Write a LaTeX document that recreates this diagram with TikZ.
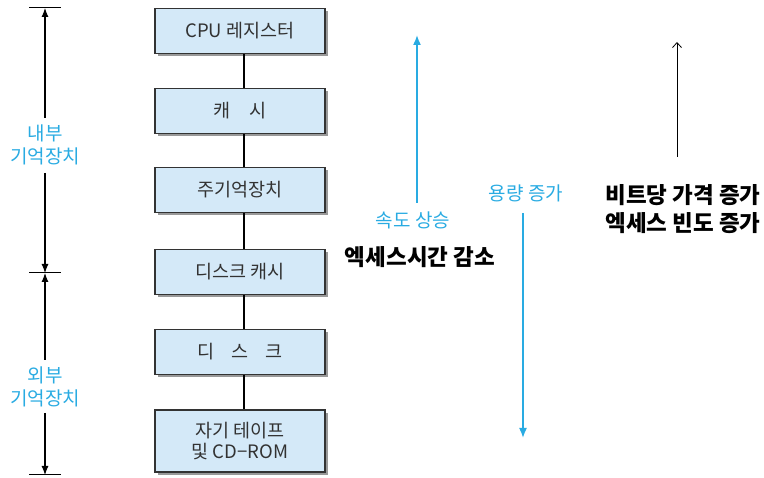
\documentclass[tikz,border=0pt]{standalone}
\usepackage{fontspec}
\newfontfamily\kr{Noto Sans CJK KR}
\usetikzlibrary{arrows.meta}
\definecolor{boxfill}{RGB}{212,233,248}
\definecolor{skyblue}{RGB}{41,171,226}
\definecolor{boxtext}{RGB}{50,50,50}
\tikzset{
  membox/.style={draw=black!80, line width=1.1pt, fill=boxfill, minimum width=170pt,
    minimum height=45pt, inner sep=0pt, align=center, text=boxtext,
    font=\kr\fontsize{18.5}{21}\selectfont},
  shadowbox/.style={fill=black!40, minimum width=170pt, minimum height=45pt, inner sep=0pt},
  link/.style={line width=1.3pt},
  dimline/.style={line width=1.1pt, -{Latex[length=9pt,width=7pt]}},
  tick/.style={line width=1pt},
  bluelabel/.style={text=skyblue, font=\kr\fontsize{19}{23}\selectfont, align=center, inner sep=1pt},
  bluearrow/.style={draw=skyblue, line width=1.6pt, -{Latex[length=10pt,width=8pt]}},
  blacklabel/.style={text=black, font=\kr\bfseries\fontsize{22.5}{28}\selectfont, align=center, inner sep=1pt},
  thinarrow/.style={line width=0.8pt, -{Straight Barb[length=5pt,width=9pt]}}
}
\begin{document}
\begin{tikzpicture}[x=1pt,y=-1pt]
\useasboundingbox (0,0) rectangle (764,478);

% drop shadows behind the memory boxes
\foreach \yy/\hh in {31/45,111/45,190/45,272/45,352/45,441/62}
  \node[shadowbox, minimum height=\hh pt] at (243,\yy+3) {};

% memory hierarchy boxes
\node[membox] (reg)   at (240,31)  {CPU 레지스터};
\node[membox] (cache) at (240,111) {캐\hspace{1em}시};
\node[membox] (main)  at (240,190) {주기억장치};
\node[membox] (dcache) at (240,272) {디스크 캐시};
\node[membox] (disk)  at (240,352) {디\hspace{0.9em}스\hspace{0.9em}크};
\node[membox, minimum height=62pt] (tape) at (240,441) {자기 테이프\\및 CD−ROM};

\foreach \a/\b in {reg/cache,cache/main,main/dcache,dcache/disk,disk/tape}
  \draw[link] ([xshift=4pt]\a.south) -- ([xshift=4pt]\b.north);

% left dimension lines: internal / external storage
\coordinate (t1) at (45,8);
\coordinate (t2) at (45,273);
\coordinate (t3) at (45,475);
\draw[tick] (29,8) -- (61,8);
\draw[tick] (29,273) -- (61,273);
\draw[tick] (29,475) -- (61,475);

\node[bluelabel] (inner) at (45,145) {내부\\기억장치};
\node[bluelabel] (outer) at (45,387) {외부\\기억장치};

\draw[dimline] (45,118) -- (t1);
\draw[dimline] (45,173) -- (t2);
\draw[dimline] (45,360) -- (t2);
\draw[dimline] (45,413) -- (t3);

% speed and capacity trends
\coordinate (upfoot) at (417,203);
\coordinate (uptip)  at (417,35);
\draw[bluearrow] (upfoot) -- (uptip);
\node[bluelabel] (speed) at (413,220) {속도 상승};
\node[blacklabel] (access) at (420,257) {엑세스시간 감소};

\coordinate (downfoot) at (523,213);
\coordinate (downtip)  at (523,438);
\draw[bluearrow] (downfoot) -- (downtip);
\node[bluelabel] (capacity) at (526,193) {용량 증가};

% cost per bit and access frequency
\coordinate (costfoot) at (677,157);
\coordinate (costtip)  at (677,42);
\draw[thinarrow] (costfoot) -- (costtip);
\node[blacklabel] (cost) at (683,209) {비트당 가격 증가\\엑세스 빈도 증가};
\end{tikzpicture}
\end{document}
